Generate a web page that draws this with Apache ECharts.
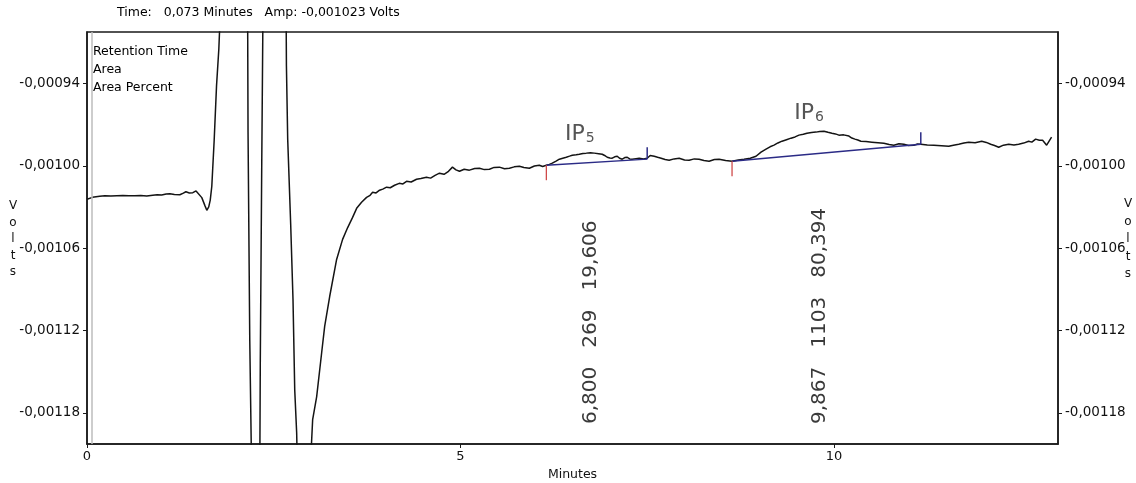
<!DOCTYPE html>
<html>
<head>
<meta charset="utf-8">
<script src="https://cdn.jsdelivr.net/npm/echarts@6/dist/echarts.min.js"></script>
<style>
  html, body { margin: 0; padding: 0; background: #fff; }
  #chart { width: 1136px; height: 483px; }
</style>
</head>
<body>
<div id="chart"></div>
<script>
// Detector trace: time in minutes, signal in volts
const timeMin = [
  0.000, 0.073, 0.170, 0.240, 0.320, 0.400, 0.480, 0.560, 0.640, 0.720,
  0.800, 0.880, 0.940, 1.000, 1.060, 1.110, 1.170, 1.243, 1.290, 1.324,
  1.370, 1.417, 1.460, 1.484, 1.537, 1.580, 1.604, 1.630, 1.650, 1.671,
  1.702, 1.734, 1.765, 1.791, 2.150, 2.156, 2.179, 2.206, 2.313, 2.320,
  2.340, 2.357, 2.665, 2.670, 2.687, 2.727, 2.758, 2.781, 2.807, 2.821,
  2.981, 3.021, 3.075, 3.142, 3.182, 3.249, 3.342, 3.422, 3.490, 3.556,
  3.610, 3.676, 3.743, 3.790, 3.824, 3.870, 3.917, 3.960, 4.011, 4.060,
  4.118, 4.180, 4.230, 4.278, 4.340, 4.412, 4.470, 4.545, 4.600, 4.660,
  4.719, 4.780, 4.840, 4.893, 4.940, 4.987, 5.050, 5.120, 5.190, 5.254,
  5.320, 5.388, 5.450, 5.521, 5.590, 5.655, 5.720, 5.789, 5.850, 5.922,
  5.990, 6.056, 6.100, 6.150, 6.190, 6.230, 6.280, 6.324, 6.370, 6.417,
  6.460, 6.497, 6.550, 6.591, 6.640, 6.684, 6.740, 6.791, 6.850, 6.898,
  6.930, 6.965, 7.000, 7.032, 7.065, 7.099, 7.130, 7.166, 7.200, 7.233,
  7.265, 7.299, 7.350, 7.393, 7.450, 7.500, 7.540, 7.594, 7.640, 7.687,
  7.740, 7.794, 7.860, 7.928, 8.000, 8.062, 8.130, 8.195, 8.260, 8.329,
  8.400, 8.463, 8.550, 8.636, 8.720, 8.797, 8.880, 8.957, 9.024, 9.091,
  9.145, 9.198, 9.250, 9.305, 9.365, 9.425, 9.480, 9.532, 9.590, 9.639,
  9.700, 9.759, 9.810, 9.866, 9.920, 9.973, 10.020, 10.067, 10.130, 10.201,
  10.240, 10.281, 10.320, 10.361, 10.430, 10.508, 10.590, 10.668, 10.740, 10.802,
  10.870, 10.936, 11.000, 11.070, 11.120, 11.163, 11.250, 11.337, 11.440, 11.537,
  11.600, 11.671, 11.740, 11.805, 11.890, 11.979, 12.040, 12.099, 12.150, 12.206,
  12.270, 12.340, 12.410, 12.473, 12.540, 12.607, 12.650, 12.701, 12.750, 12.794,
  12.848, 12.914
];
const signalV = [
  -0.0010244, -0.0010230, -0.0010222, -0.0010218, -0.0010221, -0.0010218, -0.0010216, -0.0010218, -0.0010219, -0.0010217,
  -0.0010221, -0.0010215, -0.0010211, -0.0010213, -0.0010206, -0.0010203, -0.0010209, -0.0010211, -0.0010199, -0.0010189,
  -0.0010198, -0.0010196, -0.0010183, -0.0010181, -0.0010232, -0.0010292, -0.0010324, -0.0010300, -0.0010250, -0.0010149,
  -0.0009821, -0.0009420, -0.0009150, -0.0008800, -0.0008800, -0.0009755, -0.0011265, -0.0012300, -0.0012300, -0.0011433,
  -0.0009952, -0.0008800, -0.0008800, -0.0009274, -0.0009806, -0.0010426, -0.0010974, -0.0011630, -0.0011944, -0.0012300,
  -0.0012300, -0.0011849, -0.0011681, -0.0011360, -0.0011170, -0.0010952, -0.0010682, -0.0010536, -0.0010450, -0.0010376,
  -0.0010310, -0.0010266, -0.0010230, -0.0010215, -0.0010193, -0.0010198, -0.0010178, -0.0010170, -0.0010156, -0.0010160,
  -0.0010142, -0.0010128, -0.0010132, -0.0010113, -0.0010118, -0.0010098, -0.0010092, -0.0010084, -0.0010090, -0.0010070,
  -0.0010054, -0.0010062, -0.0010040, -0.0010010, -0.0010030, -0.0010040, -0.0010025, -0.0010032, -0.0010020, -0.0010018,
  -0.0010028, -0.0010025, -0.0010012, -0.0010010, -0.0010022, -0.0010018, -0.0010008, -0.0010003, -0.0010012, -0.0010018,
  -0.0010002, -0.0009996, -0.0010005, -0.0009996, -0.0009990, -0.0009981, -0.0009966, -0.0009952, -0.0009945, -0.0009938,
  -0.0009930, -0.0009923, -0.0009920, -0.0009916, -0.0009910, -0.0009908, -0.0009905, -0.0009908, -0.0009912, -0.0009916,
  -0.0009925, -0.0009938, -0.0009943, -0.0009945, -0.0009935, -0.0009931, -0.0009945, -0.0009952, -0.0009940, -0.0009938,
  -0.0009950, -0.0009952, -0.0009948, -0.0009945, -0.0009950, -0.0009945, -0.0009925, -0.0009931, -0.0009938, -0.0009945,
  -0.0009955, -0.0009960, -0.0009950, -0.0009945, -0.0009958, -0.0009960, -0.0009950, -0.0009952, -0.0009962, -0.0009967,
  -0.0009955, -0.0009952, -0.0009962, -0.0009967, -0.0009958, -0.0009952, -0.0009945, -0.0009931, -0.0009901, -0.0009879,
  -0.0009862, -0.0009850, -0.0009834, -0.0009821, -0.0009810, -0.0009799, -0.0009790, -0.0009777, -0.0009770, -0.0009763,
  -0.0009758, -0.0009755, -0.0009750, -0.0009748, -0.0009756, -0.0009763, -0.0009768, -0.0009777, -0.0009775, -0.0009784,
  -0.0009798, -0.0009806, -0.0009812, -0.0009821, -0.0009824, -0.0009828, -0.0009832, -0.0009836, -0.0009845, -0.0009850,
  -0.0009840, -0.0009843, -0.0009852, -0.0009850, -0.0009842, -0.0009843, -0.0009848, -0.0009850, -0.0009854, -0.0009858,
  -0.0009850, -0.0009843, -0.0009835, -0.0009828, -0.0009832, -0.0009821, -0.0009830, -0.0009843, -0.0009852, -0.0009865,
  -0.0009850, -0.0009843, -0.0009848, -0.0009843, -0.0009835, -0.0009821, -0.0009828, -0.0009806, -0.0009814, -0.0009814,
  -0.0009850, -0.0009792
];

// Integrated peaks
const peakNumbers = ['5', '6'];
const peakRetention = [6.800, 9.867];
const peakArea = [269, 1103];
const peakAreaPercent = [19.606, 80.394];
const baseStartTime = [6.150, 8.636];
const baseStartVolts = [-0.0009996, -0.0009967];
const baseEndTime = [7.500, 11.163];
const baseEndVolts = [-0.0009952, -0.0009843];

// Axes
const voltTicks = [-0.00118, -0.00112, -0.00106, -0.00100, -0.00094];
const voltMin = -0.0012026;
const voltMax = -0.0009026;
const timeMax = 13;
const timeStep = 5;

// Cursor readout
const cursorTime = 0.073;
const cursorAmp = -0.001023;

const FONT = '"DejaVu Sans", "Liberation Sans", sans-serif';
const comma = (v, d) => v.toFixed(d).replace('.', ',');

const trace = timeMin.map((t, i) => [t, signalV[i]]);

// apex of each peak, taken from the trace between its baseline limits
const peakRows = peakNumbers.map((n, i) => {
  let apex = -Infinity;
  timeMin.forEach((t, k) => {
    if (t >= baseStartTime[i] && t <= baseEndTime[i]) apex = Math.max(apex, signalV[k]);
  });
  return [baseStartTime[i], baseStartVolts[i], baseEndTime[i], baseEndVolts[i], peakRetention[i], apex, i];
});

const chart = echarts.init(document.getElementById('chart'), null, { renderer: 'canvas' });

const voltAxis = (side) => ({
  type: 'value',
  position: side,
  min: voltMin,
  max: voltMax,
  scale: true,
  axisLine: { show: true, onZero: false, lineStyle: { color: '#1a1a1a', width: 1.5 } },
  axisTick: { show: true, length: 4, customValues: voltTicks, lineStyle: { color: '#1a1a1a', width: 1 } },
  axisLabel: {
    show: true, customValues: voltTicks, margin: 7,
    color: '#111', fontSize: 13.5, fontFamily: FONT,
    formatter: (v) => comma(v, 5)
  },
  splitLine: { show: false }
});

chart.setOption({
  animation: false,
  backgroundColor: '#fff',
  grid: {
    left: 87, right: 78, top: 32, bottom: 39,
    outerBoundsMode: 'none', containLabel: false,
    show: true, borderColor: '#1a1a1a', borderWidth: 1.5, backgroundColor: 'transparent'
  },
  xAxis: {
    type: 'value',
    min: 0, max: timeMax, interval: timeStep,
    axisLine: { show: true, onZero: false, lineStyle: { color: '#1a1a1a', width: 1.5 } },
    axisTick: { show: true, length: 4, lineStyle: { color: '#1a1a1a' } },
    axisLabel: { color: '#111', fontSize: 13, fontFamily: FONT, margin: 6, showMaxLabel: false },
    splitLine: { show: false },
    name: 'Minutes', nameLocation: 'middle', nameGap: 22,
    nameTextStyle: { color: '#111', fontSize: 12.5, fontFamily: FONT }
  },
  yAxis: [voltAxis('left'), voltAxis('right')],
  graphic: [
    {
      type: 'text', left: 117, top: 6,
      style: {
        text: 'Time:   ' + comma(cursorTime, 3) + ' Minutes   Amp: ' + comma(cursorAmp, 6) + ' Volts',
        fill: '#000', font: '12.5px ' + FONT
      }
    },
    {
      type: 'text', left: 93, top: 43,
      style: {
        text: 'Retention Time\nArea\nArea Percent',
        fill: '#000', font: '12.5px ' + FONT, lineHeight: 18
      }
    },
    {
      type: 'text', x: 13, y: 239,
      style: { text: 'V\no\nl\nt\ns', fill: '#111', font: '12px ' + FONT, lineHeight: 16.5, align: 'center', verticalAlign: 'middle' }
    },
    {
      type: 'text', x: 1128, y: 239,
      style: { text: 'V\no\nl\nt\ns', fill: '#111', font: '12px ' + FONT, lineHeight: 17.5, align: 'center', verticalAlign: 'middle' }
    }
  ],
  series: [
    {
      type: 'line',
      data: trace,
      showSymbol: false,
      clip: true,
      lineStyle: { color: '#141414', width: 1.5 },
      z: 3,
      markLine: {
        silent: true, symbol: 'none', label: { show: false },
        lineStyle: { color: '#bdbdbd', width: 1.5, type: 'solid' },
        data: [{ xAxis: cursorTime }]
      }
    },
    {
      type: 'custom',
      data: peakRows,
      clip: false,
      z: 4,
      renderItem: (params, api) => {
        const idx = api.value(6);
        const p0 = api.coord([api.value(0), api.value(1)]);
        const p1 = api.coord([api.value(2), api.value(3)]);
        const top = api.coord([api.value(4), api.value(5)]);
        const cs = params.coordSys;
        const bottomY = cs.y + cs.height - 20;
        return {
          type: 'group',
          children: [
            { type: 'line', shape: { x1: p0[0], y1: p0[1], x2: p1[0], y2: p1[1] },
              style: { stroke: '#2b2b86', lineWidth: 1.4 } },
            { type: 'line', shape: { x1: p0[0], y1: p0[1], x2: p0[0], y2: p0[1] + 15 },
              style: { stroke: '#cf4a4a', lineWidth: 1.3 } },
            { type: 'line', shape: { x1: p1[0], y1: p1[1], x2: p1[0], y2: p1[1] - 12 },
              style: { stroke: '#2b2b86', lineWidth: 1.5 } },
            { type: 'text', x: top[0] - 15, y: top[1] - 7,
              style: {
                text: '{a|IP}{b|' + peakNumbers[idx] + '}',
                align: 'center', verticalAlign: 'bottom',
                rich: {
                  a: { fontSize: 22, fontFamily: FONT, fill: '#555', verticalAlign: 'bottom' },
                  b: { fontSize: 14, fontFamily: FONT, fill: '#555', verticalAlign: 'bottom', padding: [0, 0, 0, 1] }
                }
              } },
            { type: 'text', x: top[0] - 4, y: bottomY, rotation: Math.PI / 2,
              style: {
                text: comma(peakRetention[idx], 3) + '   ' + peakArea[idx] + '   ' + comma(peakAreaPercent[idx], 3),
                align: 'left', verticalAlign: 'middle',
                fill: '#3a3a3a', font: '20px ' + FONT
              } }
          ]
        };
      }
    }
  ]
});
</script>
</body>
</html>
